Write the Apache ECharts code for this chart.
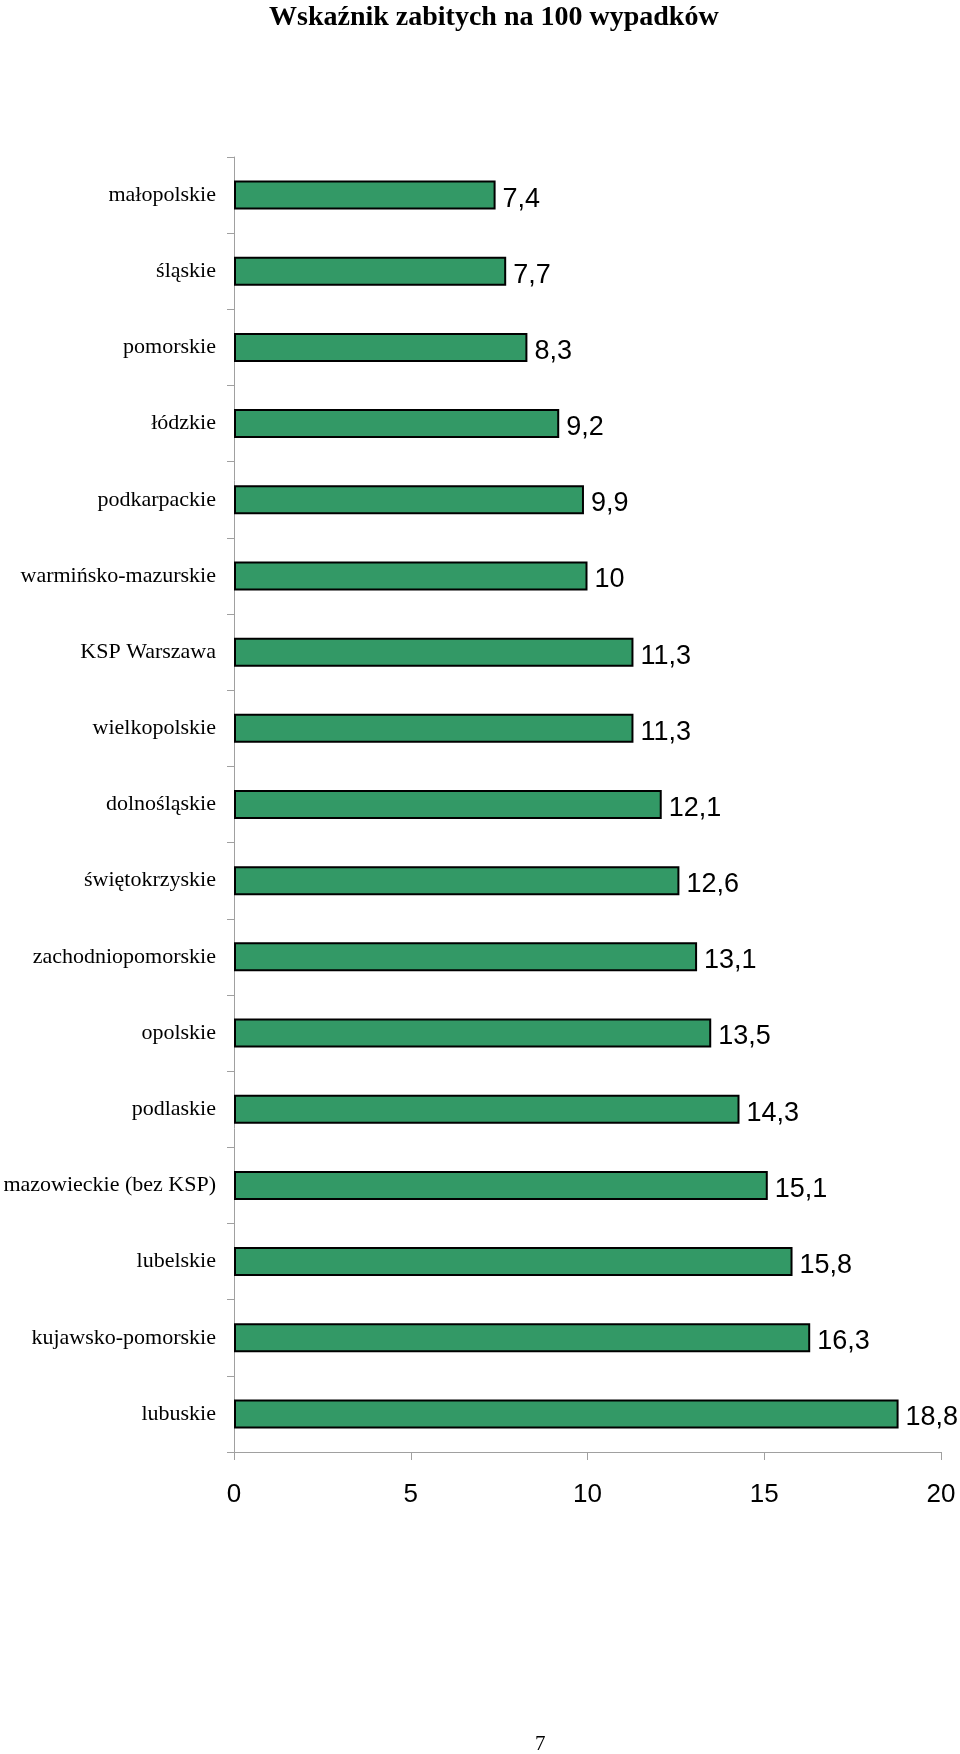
<!DOCTYPE html>
<html><head><meta charset="utf-8">
<script src="https://cdn.jsdelivr.net/npm/echarts@6/dist/echarts.min.js"></script>
<style>html,body{margin:0;padding:0;background:#fff}#c{width:960px;height:1754px}</style>
</head><body><div id="c"></div>
<script>
const categories = ["małopolskie","śląskie","pomorskie","łódzkie","podkarpackie","warmińsko-mazurskie","KSP Warszawa","wielkopolskie","dolnośląskie","świętokrzyskie","zachodniopomorskie","opolskie","podlaskie","mazowieckie (bez KSP)","lubelskie","kujawsko-pomorskie","lubuskie"];
const values = [7.4,7.7,8.3,9.2,9.9,10,11.3,11.3,12.1,12.6,13.1,13.5,14.3,15.1,15.8,16.3,18.8];
const xTicks = [0,5,10,15,20];
const chart = echarts.init(document.getElementById('c'), null, {renderer:'canvas'});
chart.setOption({
  backgroundColor:'#fff',
  animation:false,
  title:[{text:'Wskaźnik zabitych na 100 wypadków',left:264,top:-1,
    textStyle:{fontFamily:'Liberation Serif',fontWeight:'bold',fontSize:28,color:'#000'}},
    {text:'7',left:530,top:1729,textStyle:{fontFamily:'Liberation Serif',fontWeight:'normal',fontSize:21,color:'#000'}}],
  grid:{left:234,right:19,top:157,bottom:302,containLabel:false},
  xAxis:{type:'value',min:xTicks[0],max:xTicks[xTicks.length-1],interval:5,
    axisLine:{show:true,lineStyle:{color:'#a0a0a0',width:1}},
    axisTick:{show:true,length:8,lineStyle:{color:'#a0a0a0'}},
    splitLine:{show:false},
    axisLabel:{fontFamily:'Liberation Sans',fontSize:26,color:'#000',margin:30}},
  yAxis:{type:'category',data:categories,inverse:true,
    axisLine:{show:true,lineStyle:{color:'#a0a0a0',width:1}},
    axisTick:{show:true,length:7,alignWithLabel:false,lineStyle:{color:'#a0a0a0'}},
    axisLabel:{fontFamily:'Liberation Serif',fontSize:22,color:'#000',margin:18}},
  series:[{type:'bar',data:values,barWidth:29,
    itemStyle:{color:'#339966',borderColor:'#000',borderWidth:2},
    label:{show:true,position:'right',distance:7,offset:[0,4],
      fontFamily:'Liberation Sans',fontSize:27,color:'#000',
      formatter:p=>String(p.value).replace('.',',')}}]
});
</script></body></html>
